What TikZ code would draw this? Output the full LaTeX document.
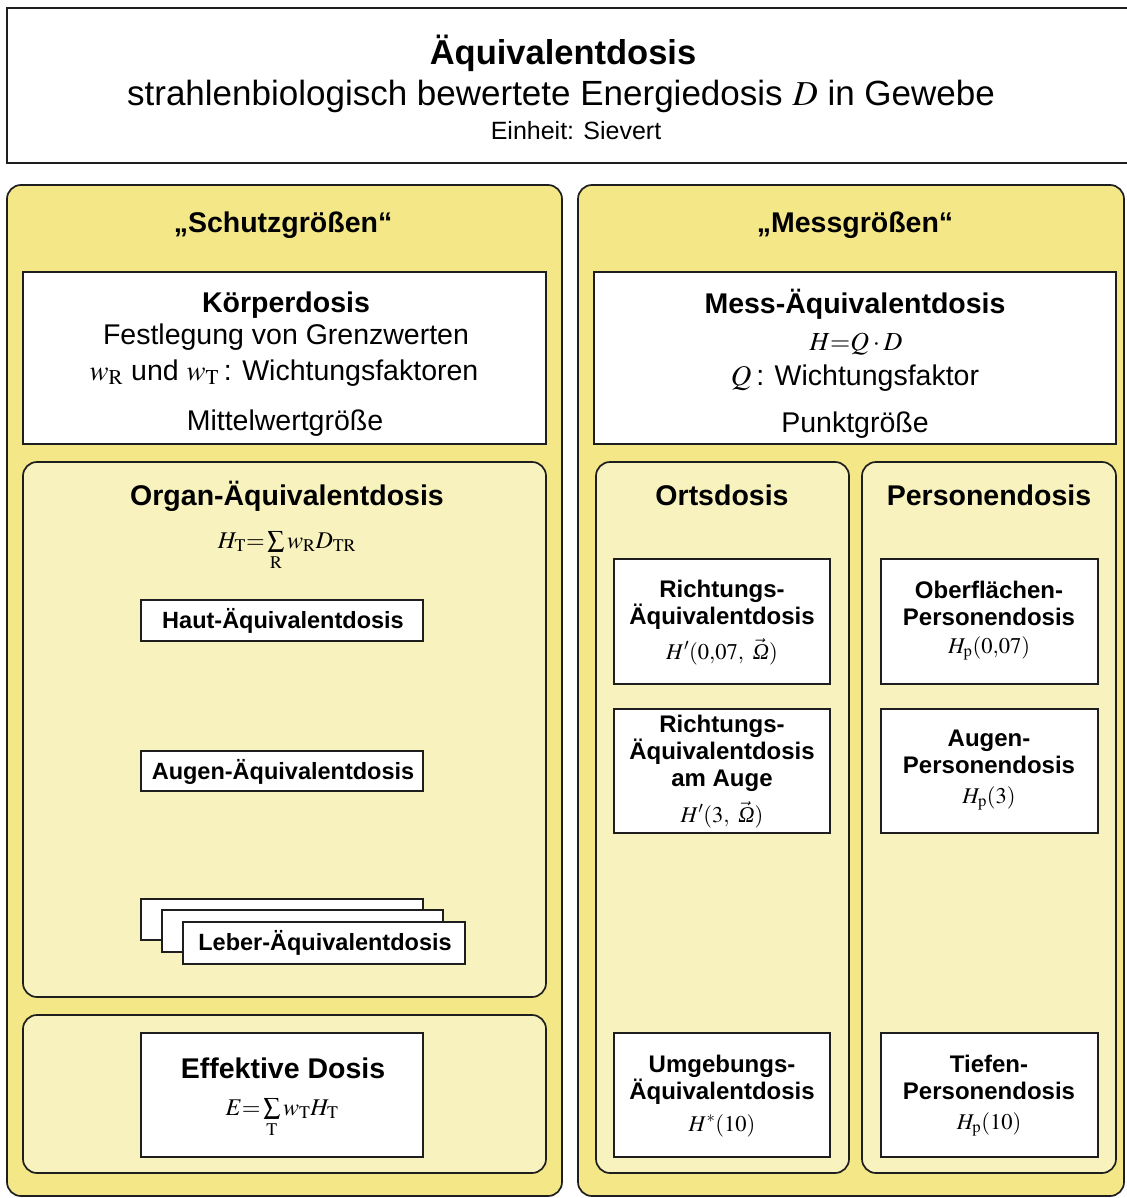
\documentclass[tikz,border=0pt]{standalone}
\usepackage{mathptmx}
\usepackage[no-math]{fontspec}
\setmainfont{Liberation Sans}
\newfontfamily\tms{Liberation Serif}
\newcommand\omg{\vec{\hbox{\tms\itshape Ω}}}
\definecolor{ylw}{HTML}{F3E788}
\definecolor{ylwb}{HTML}{F8F2BE}
\definecolor{lc}{HTML}{1E1E1E}
\newcommand\mkbox[6]{\node[#1, minimum width={(#5-#3)*1pt}, minimum height={(#6-#4)*1pt}] (#2) at ({(#3+#5)/2},{(#4+#6)/2}) {};}
\tikzset{
  outerp/.style={draw=lc, line width=1.7pt, fill=ylw, rounded corners=14pt, inner sep=0pt},
  innerp/.style={draw=lc, line width=1.7pt, fill=ylwb, rounded corners=14pt, inner sep=0pt},
  wbox/.style={draw=lc, line width=1.7pt, fill=white, inner sep=0pt},
  txt/.style={inner sep=0pt, anchor=base, align=center, text=black},
  fB/.style={font=\fontsize{28.5}{34}\selectfont},
  fC/.style={font=\fontsize{25}{30}\selectfont},
  hB/.style={font=\fontsize{28.5}{34}\selectfont\bfseries},
  hS/.style={font=\fontsize{24}{29}\selectfont\bfseries},
  hL/.style={font=\fontsize{23.5}{28}\selectfont\bfseries},
  fM/.style={font=\fontsize{24}{29}\selectfont},
  fMs/.style={font=\fontsize{22.5}{27}\selectfont},
}
\begin{document}
\begin{tikzpicture}[x=1pt,y=-1pt]
\useasboundingbox (0,0) rectangle (1126,1198);
\fill[white] (0,0) rectangle (1126,1198);
% header
\mkbox{wbox}{head}{7}{8}{1135}{163}
\node[txt,font=\fontsize{34.5}{40}\selectfont\bfseries] (t1) at (563,65) {Äquivalentdosis};
\node[txt,font=\fontsize{35}{40}\selectfont] (t2) at (561,106) {strahlenbiologisch bewertete Energiedosis $D$ in Gewebe};
\node[txt,fC] (t3) at (576,140) {Einheit: Sievert};
% panels
\mkbox{outerp}{left}{7}{185}{562}{1196}
\mkbox{outerp}{right}{578}{185}{1124}{1196}
\node[txt,hB] (sg) at (283,233) {„Schutzgrößen“};
\node[txt,hB] (mg) at (855,233) {„Messgrößen“};
% Koerperdosis
\mkbox{wbox}{koerper}{23}{272}{546}{444}
\node[txt,hB] (k1) at (286,312) {Körperdosis};
\node[txt,fB] (k2) at (286,344) {Festlegung von Grenzwerten};
\node[txt,fB] (k3) at (284,380) {$w_{\mathrm{R}}$ und $w_{\mathrm{T}}$\,: Wichtungsfaktoren};
\node[txt,fB] (k4) at (285,430) {Mittelwertgröße};
% Organ
\mkbox{innerp}{organ}{23}{462}{546}{997}
\node[txt,hB] (o1) at (287,505) {Organ-Äquivalentdosis};
\node[txt,fM] (o2) at (287,548) {$H_{\mathrm{T}}{=}\sum\limits_{\mathrm{R}}w_{\mathrm{R}}D_{\mathrm{TR}}$};
\mkbox{wbox}{haut}{141}{600}{423}{641}
\node[txt,hL] (hautt) at (283,628) {Haut-Äquivalentdosis};
\mkbox{wbox}{auge}{141}{751}{423}{791}
\node[txt,hL] (auget) at (283,779) {Augen-Äquivalentdosis};
\mkbox{wbox}{leberA}{141}{899}{423}{940}
\mkbox{wbox}{leberB}{162}{910}{443}{952}
\mkbox{wbox}{leberC}{183}{922}{465}{964}
\node[txt,hL] (lebert) at (325,950) {Leber-Äquivalentdosis};
% Effektive
\mkbox{innerp}{effp}{23}{1015}{546}{1173}
\mkbox{wbox}{eff}{141}{1033}{423}{1157}
\node[txt,hB] (e1) at (283,1078) {Effektive Dosis};
\node[txt,fM] (e2) at (282,1115) {$E{=}\sum\limits_{\mathrm{T}}w_{\mathrm{T}}H_{\mathrm{T}}$};
% Mess
\mkbox{wbox}{mess}{594}{272}{1116}{444}
\node[txt,hB] (m1) at (855,313) {Mess-Äquivalentdosis};
\node[txt,font=\fontsize{26}{30}\selectfont] (m2) at (856,350) {$H{=}Q\cdot D$};
\node[txt,fB] (m3) at (855,385) {$Q$\,: Wichtungsfaktor};
\node[txt,fB] (m4) at (855,432) {Punktgröße};
% Orts / Personen
\mkbox{innerp}{orts}{596}{462}{849}{1173}
\mkbox{innerp}{pers}{862}{462}{1116}{1173}
\node[txt,hB] (ot) at (722,505) {Ortsdosis};
\node[txt,hB] (pt) at (989,505) {Personendosis};
% Orts boxes
\mkbox{wbox}{rA}{614}{559}{830}{684}
\node[txt,hS] (rA1) at (722,597) {Richtungs-};
\node[txt,hS] (rA2) at (722,624) {Äquivalentdosis};
\node[txt,fMs] (rA3) at (722,659) {$H'(0{,}07,\ \omg)$};
\mkbox{wbox}{rB}{614}{709}{830}{833}
\node[txt,hS] (rB1) at (722,732) {Richtungs-};
\node[txt,hS] (rB2) at (722,759) {Äquivalentdosis};
\node[txt,hS] (rB3) at (722,786) {am Auge};
\node[txt,fMs] (rB4) at (722,822) {$H'(3,\ \omg)$};
\mkbox{wbox}{rC}{614}{1033}{830}{1157}
\node[txt,hS] (rC1) at (722,1072) {Umgebungs-};
\node[txt,hS] (rC2) at (722,1099) {Äquivalentdosis};
\node[txt,fMs] (rC3) at (722,1131) {$H^{*}(10)$};
% Personen boxes
\mkbox{wbox}{pA}{881}{559}{1098}{684}
\node[txt,hS] (pA1) at (989,598) {Oberflächen-};
\node[txt,hS] (pA2) at (989,625) {Personendosis};
\node[txt,fMs] (pA3) at (989,653) {$H_{\mathrm{p}}(0{,}07)$};
\mkbox{wbox}{pB}{881}{709}{1098}{833}
\node[txt,hS] (pB1) at (989,746) {Augen-};
\node[txt,hS] (pB2) at (989,773) {Personendosis};
\node[txt,fMs] (pB3) at (989,803) {$H_{\mathrm{p}}(3)$};
\mkbox{wbox}{pC}{881}{1033}{1098}{1157}
\node[txt,hS] (pC1) at (989,1072) {Tiefen-};
\node[txt,hS] (pC2) at (989,1099) {Personendosis};
\node[txt,fMs] (pC3) at (989,1129) {$H_{\mathrm{p}}(10)$};
\end{tikzpicture}
\end{document}
